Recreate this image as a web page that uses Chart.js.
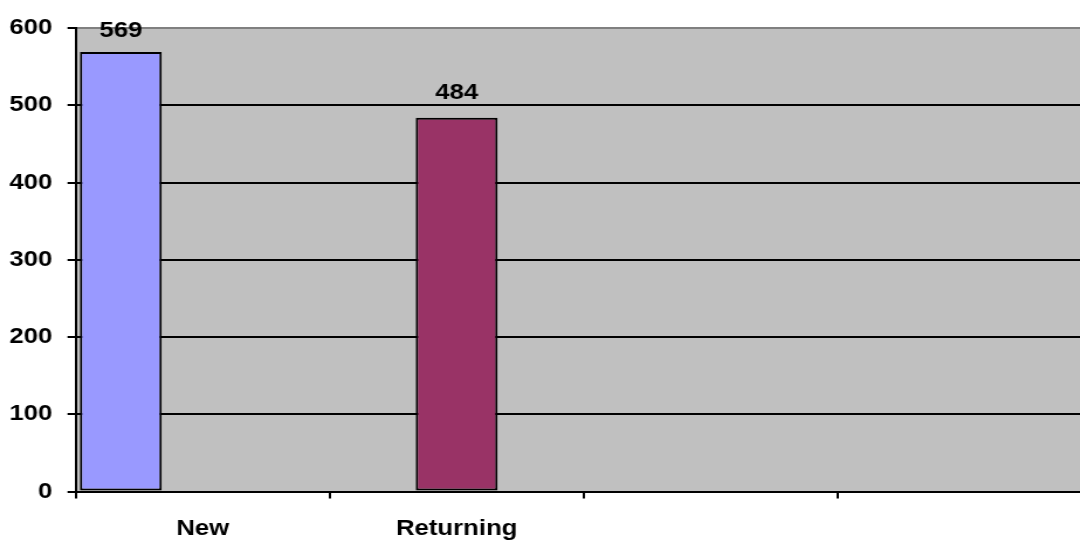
<!DOCTYPE html>
<html>
<head>
<meta charset="utf-8">
<script src="https://cdn.jsdelivr.net/npm/chart.js@4/dist/chart.umd.min.js"></script>
<style>
  html, body { margin: 0; padding: 0; background: #fff; overflow: hidden; }
  #wrap { width: 1080px; height: 542px; overflow: hidden; position: relative; }
  /* the reference text is wider than tall, so the whole chart is stretched a bit */
  #stretch { transform: scaleX(1.17); transform-origin: 0 0; width: 933px; height: 542px; }
</style>
</head>
<body>
<div id="wrap"><div id="stretch"><canvas id="visitsChart" width="933" height="542"></canvas></div></div>
<script>
// data
const categories = ["New", "Returning", "", ""];
const newVisits = [569, null, null, null];
const returningVisits = [null, 484, null, null];
const otherVisits = [null, null, null, null];
const yTicks = [0, 100, 200, 300, 400, 500, 600];

const FONT = { family: "'Liberation Sans', Arial, sans-serif", size: 22, weight: "bold" };

// grey plot area like the old excel charts
const plotBackground = {
  id: "plotBackground",
  beforeDraw(chart) {
    const { ctx, chartArea } = chart;
    ctx.save();
    ctx.fillStyle = "#c0c0c0";
    ctx.fillRect(chartArea.left, chartArea.top, chartArea.right - chartArea.left, chartArea.bottom - chartArea.top);
    ctx.restore();
  },
};

// value labels above the bars
const valueLabels = {
  id: "valueLabels",
  afterDatasetsDraw(chart) {
    const ctx = chart.ctx;
    ctx.save();
    ctx.font = `bold ${FONT.size}px ${FONT.family}`;
    ctx.fillStyle = "#000";
    ctx.textAlign = "center";
    ctx.textBaseline = "alphabetic";
    chart.data.datasets.forEach((ds, i) => {
      const meta = chart.getDatasetMeta(i);
      meta.data.forEach((bar, j) => {
        const v = ds.data[j];
        if (v === null || v === undefined) return;
        // keep the top label inside the canvas
        ctx.fillText(String(v), bar.x, Math.max(bar.y - 19, 37));
      });
    });
    ctx.restore();
  },
};

function designChart() {
  const ctx = document.getElementById("visitsChart").getContext("2d");
  const barStyle = { borderColor: "#000", borderWidth: 2, borderSkipped: false, barPercentage: 1, categoryPercentage: 0.967 };
  new Chart(ctx, {
    type: "bar",
    data: {
      labels: categories,
      datasets: [
        { label: "New", data: newVisits, backgroundColor: "#9999ff", ...barStyle },
        { label: "Returning", data: returningVisits, backgroundColor: "#993366", ...barStyle },
        { label: "Other", data: otherVisits, backgroundColor: "#ffffcc", ...barStyle },
      ],
    },
    options: {
      responsive: false,
      animation: false,
      devicePixelRatio: 1,
      // chart.js reserves tick padding twice, so pull the axes back
      layout: { padding: { left: -5, top: 28, right: 0, bottom: -17 } },
      scales: {
        x: {
          grid: { drawOnChartArea: false, drawTicks: true, tickLength: 7, color: "#000", lineWidth: 2, offset: true },
          border: { color: "#000", width: 2 },
          ticks: { color: "#000", font: FONT, padding: 17, maxRotation: 0, autoSkip: false },
        },
        y: {
          min: yTicks[0],
          max: yTicks[yTicks.length - 1],
          afterBuildTicks: (scale) => {
            scale.ticks = yTicks.map((v) => ({ value: v }));
          },
          grid: {
            color: (c) => (c.tick && c.tick.value === 600 ? "#808080" : "#000"),
            tickColor: "#000",
            lineWidth: 2,
            tickLength: 7,
          },
          border: { color: "#000", width: 2 },
          ticks: { color: "#000", font: FONT, padding: 13 },
        },
      },
      plugins: {
        legend: { display: false },
        title: { display: false },
        tooltip: { enabled: false },
      },
    },
    plugins: [plotBackground, valueLabels],
  });
}
designChart();
</script>
</body>
</html>
